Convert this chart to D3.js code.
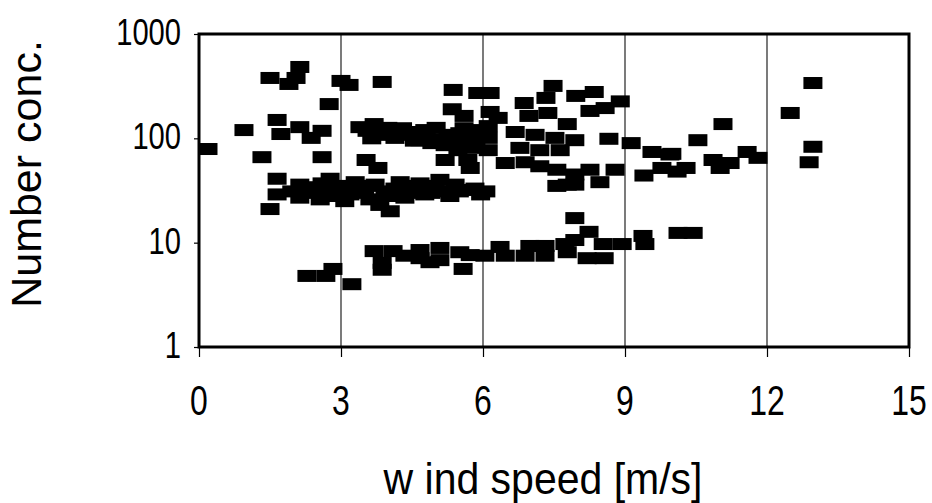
<!DOCTYPE html>
<html>
<head>
<meta charset="utf-8">
<script src="https://cdn.jsdelivr.net/npm/d3@7"></script>
<style>
  html, body { margin: 0; padding: 0; background: #fff; }
  svg { display: block; }
  text { font-family: "Liberation Sans", Arial, Helvetica, sans-serif; fill: #000; }
</style>
</head>
<body>
<svg id="chart" width="932" height="503"></svg>
<script>
// ---- data (wind speed [m/s], number concentration) ----
const windSpeed = [
  1.50, 2.05, 2.13, 1.90, 3.00, 3.17, 3.87, 2.75, 0.19, 0.95, 1.33, 1.65, 2.13, 1.73, 2.37, 2.60, 2.60,
  1.65, 1.65, 1.50, 2.28, 2.68, 2.83, 3.23,
  5.37, 5.89, 6.15, 7.48, 6.87, 7.33, 6.97, 7.37, 7.96, 8.35, 8.26, 8.58, 8.90, 5.35, 5.60, 6.15, 6.32, 7.78,
  12.97, 12.49, 12.97, 12.89, 11.07, 10.54, 9.99, 10.10, 10.29, 10.86, 11.22, 11.01, 11.58, 11.81, 9.57, 9.95,
  8.66, 9.13, 9.40, 9.78, 8.26, 8.47, 8.79, 7.56, 7.78, 7.94, 6.47, 6.89, 7.20, 6.68, 7.10, 7.52, 7.94,
  6.78, 7.20, 7.63, 6.11, 6.11, 6.11, 5.20, 5.68, 5.73,
  3.40, 3.70, 3.99, 4.25, 4.50, 4.77, 5.01, 5.26, 5.51, 5.73, 3.82, 4.14, 4.67, 4.92, 5.20, 5.47, 5.73, 5.94, 3.53, 3.78,
  3.55, 4.00, 4.40, 4.80, 5.10, 5.35, 3.65, 4.30, 5.60, 5.85, 4.55,
  2.13, 2.35, 2.60, 2.77, 2.77, 2.98, 3.19, 3.40, 3.61, 3.82, 3.93, 4.14, 4.35, 4.56, 4.77, 4.99, 5.20, 5.41, 5.62,
  5.83, 6.06, 2.13, 2.56, 3.08, 4.04, 3.30, 3.72, 4.25, 4.67, 5.09, 1.96, 7.56, 7.94,
  2.45, 2.90, 3.50, 3.60, 4.00, 4.45, 4.90, 5.30, 5.50, 5.95, 2.50, 3.10, 4.30, 4.80,
  3.70, 4.10, 3.87, 3.87, 4.35, 4.67, 4.88, 4.67, 5.09, 5.09, 5.51, 5.58, 6.04, 6.36, 6.47, 6.89, 7.31, 6.99,
  7.31, 7.73, 7.78, 7.94, 8.20, 8.56, 8.24, 8.54, 8.94, 9.38, 9.42, 10.12, 10.44, 7.94, 5.73
];
const numberConc = [
  379, 379, 483, 332, 355, 325, 347, 213, 79, 120, 66, 150, 128, 110, 101, 118, 66,
  41, 29, 21, 4.8, 4.8, 5.6, 4.0,
  291, 272, 272, 318, 218, 244, 164, 175, 255, 278, 183, 195, 226, 190, 164, 179, 157, 137,
  339, 175, 83, 59, 137, 96, 71, 48, 52, 62, 58, 52, 74, 65, 74, 70,
  99, 90, 44, 52, 50, 38, 50, 50, 36, 45, 58, 59, 54, 115, 108, 101, 96,
  81, 77, 77, 131, 101, 77, 62, 62, 52,
  128, 137, 126, 120, 115, 120, 126, 108, 112, 101, 108, 101, 96, 90, 86, 77, 81, 120, 62, 52,
  118, 110, 108, 105, 98, 95, 100, 125, 125, 95, 95,
  36, 32, 37, 41, 29, 33, 29, 32, 26, 23, 31, 33, 27, 32, 29, 33, 31, 36, 32,
  33, 31, 27, 26, 25, 20, 38, 36, 38, 37, 40, 31, 35, 36,
  30, 28, 30, 35, 28, 30, 30, 28, 31, 29, 34, 35, 35, 35,
  8.3, 8.3, 6.4, 5.5, 7.5, 7.1, 6.5, 8.5, 8.9, 6.8, 8.1, 5.6, 7.5, 9.1, 7.5, 7.5, 7.5, 9.3,
  9.3, 9.7, 8.1, 10.6, 7.1, 7.1, 12.7, 9.7, 9.7, 11.6, 9.7, 12.4, 12.4, 17.2, 7.6
];
const xTicks = [0, 3, 6, 9, 12, 15];
const yTicks = [1, 10, 100, 1000];
const xTitle = "w ind speed [m/s]";
const yTitle = "Number conc.";

const points = windSpeed.map((w, i) => ({ x: w, y: numberConc[i] }));

// ---- layout ----
const svg = d3.select("#chart");
const L = 199, R = 909, T = 34, B = 347;
const x = d3.scaleLinear().domain([0, 15]).range([L, R]);
const y = d3.scaleLog().domain([1, 1000]).range([B, T]);
const fmt = d3.format("d");
const sx = 0.94, sy = 1.2;   // reference glyphs look vertically stretched

// vertical gridlines
svg.append("g").selectAll("line")
  .data(xTicks.filter(t => t > 0 && t < 15))
  .join("line")
  .attr("x1", d => x(d)).attr("x2", d => x(d))
  .attr("y1", T).attr("y2", B)
  .attr("stroke", "#222").attr("stroke-width", 1.2);

// markers
const mw = 19, mh = 12;
svg.append("g").selectAll("rect")
  .data(points)
  .join("rect")
  .attr("x", d => x(d.x) - mw / 2)
  .attr("y", d => y(d.y) - mh / 2)
  .attr("width", mw).attr("height", mh)
  .attr("fill", "#000");

// x axis (ticks via d3 axis, labels stretched)
const xAxis = svg.append("g")
  .attr("transform", `translate(0,${B})`)
  .call(d3.axisBottom(x).tickValues(xTicks).tickFormat("").tickSize(10));
xAxis.select(".domain").remove();
xAxis.selectAll("line").attr("stroke", "#000").attr("stroke-width", 1.2);
svg.append("g").selectAll("text")
  .data(xTicks)
  .join("text")
  .attr("transform", d => `translate(${x(d)},${415}) scale(${sx},1.25)`)
  .attr("text-anchor", "middle")
  .attr("font-size", 34)
  .text(d => fmt(d));

// y axis
const yAxis = svg.append("g")
  .attr("transform", `translate(${L},0)`)
  .call(d3.axisLeft(y).tickValues(yTicks).tickFormat("").tickSize(5));
yAxis.select(".domain").remove();
yAxis.selectAll("line").attr("stroke", "#000").attr("stroke-width", 1.2);
svg.append("g").selectAll("text")
  .data(yTicks)
  .join("text")
  .attr("transform", d => `translate(${181},${y(d) + 11}) scale(${sx},${sy})`)
  .attr("text-anchor", "end")
  .attr("font-size", 31)
  .text(d => fmt(d));

// frame
svg.append("rect")
  .attr("x", L).attr("y", T)
  .attr("width", R - L).attr("height", B - T)
  .attr("fill", "none").attr("stroke", "#000").attr("stroke-width", 3);

// titles
svg.append("text")
  .attr("transform", `translate(543,494) scale(1,1.08)`)
  .attr("text-anchor", "middle")
  .attr("font-size", 41)
  .text(xTitle);

svg.append("text")
  .attr("transform", "translate(41,174) rotate(-90)")
  .attr("text-anchor", "middle")
  .attr("font-size", 43)
  .text(yTitle);
</script>
</body>
</html>
